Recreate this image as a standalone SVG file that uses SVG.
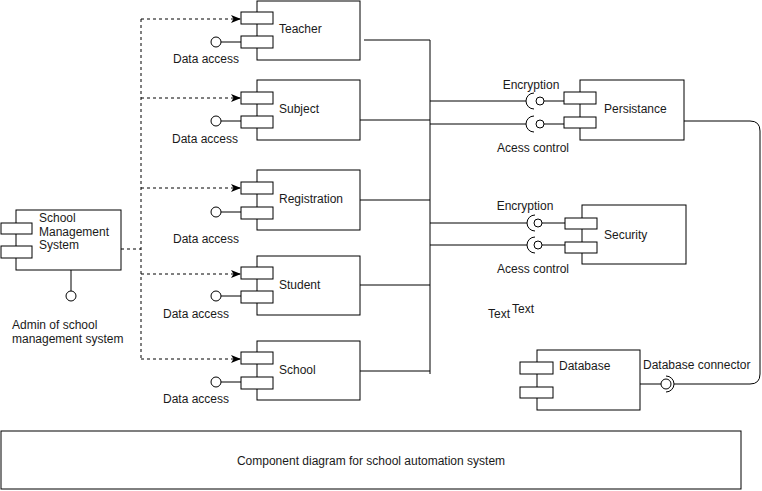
<svg xmlns="http://www.w3.org/2000/svg" width="762" height="491" viewBox="0 0 762 491">
<style>
.b{fill:#fff;stroke:#000;stroke-width:1}
.l{fill:none;stroke:#000;stroke-width:1}
.d{fill:none;stroke:#000;stroke-width:1;stroke-dasharray:3 3}
text{font-family:"Liberation Sans",Arial,sans-serif;font-size:12px;fill:#1a1a1a}
.m{text-anchor:middle}
</style>
<defs>
<marker id="ah" markerUnits="userSpaceOnUse" markerWidth="11" markerHeight="9" refX="10" refY="4.5" orient="auto">
<path d="M0,0.5 L10,4.5 L0,8.5 L2.5,4.5 Z" fill="#000"/>
</marker>
</defs>
<rect width="762" height="491" fill="#fff"/>

<g id="connectors">
<path class="d" d="M121,249 H141 M141,19 V359"/>
<path class="d" d="M141,19 H241" marker-end="url(#ah)"/>
<path class="d" d="M141,98 H241" marker-end="url(#ah)"/>
<path class="d" d="M141,188 H241" marker-end="url(#ah)"/>
<path class="d" d="M141,274 H241" marker-end="url(#ah)"/>
<path class="d" d="M141,359 H241" marker-end="url(#ah)"/>
<path class="l" d="M364,40 H430 M360,120 H430 M360,200 H430 M360,285 H430 M360,371 H430 M430,40 V374"/>
<path class="l" d="M430,101 H526 M430,124 H526 M430,223 H527 M430,245 H527"/>
<path class="l" d="M684,121 H750 Q760,121 760,131 V374 Q760,384 750,384 H674"/>
</g>

<g id="sms">
<rect class="b" x="16" y="210" width="105" height="60"/>
<rect class="b" x="1" y="223" width="31" height="11"/>
<rect class="b" x="1" y="246" width="31" height="12"/>
<text x="39" y="222">School</text>
<text x="39" y="236">Management</text>
<text x="39" y="249">System</text>
<path class="l" d="M71,270 V291"/>
<circle class="b" cx="71" cy="296" r="5"/>
<text x="12" y="329">Admin of school</text>
<text x="12" y="343">management system</text>
</g>

<g id="teacher">
<rect class="b" x="257" y="1" width="103" height="59"/>
<rect class="b" x="241" y="12" width="32" height="12"/>
<rect class="b" x="241" y="36" width="32" height="12"/>
<path class="l" d="M221,42 H241"/>
<circle class="b" cx="216" cy="42" r="5"/>
<text x="279" y="33">Teacher</text>
<text class="m" x="206" y="63">Data access</text>
</g>

<g id="subject">
<rect class="b" x="257" y="80" width="103" height="60"/>
<rect class="b" x="241" y="92" width="32" height="12"/>
<rect class="b" x="241" y="116" width="32" height="12"/>
<path class="l" d="M221,121 H241"/>
<circle class="b" cx="216" cy="121" r="5"/>
<text x="279" y="113">Subject</text>
<text class="m" x="205" y="143">Data access</text>
</g>

<g id="registration">
<rect class="b" x="257" y="170" width="103" height="60"/>
<rect class="b" x="241" y="182" width="32" height="12"/>
<rect class="b" x="241" y="207" width="32" height="12"/>
<path class="l" d="M221,212 H241"/>
<circle class="b" cx="216" cy="212" r="5"/>
<text x="279" y="203">Registration</text>
<text class="m" x="206" y="243">Data access</text>
</g>

<g id="student">
<rect class="b" x="257" y="256" width="103" height="59"/>
<rect class="b" x="241" y="267" width="32" height="12"/>
<rect class="b" x="241" y="291" width="32" height="12"/>
<path class="l" d="M221,296 H241"/>
<circle class="b" cx="216" cy="296" r="5"/>
<text x="279" y="289">Student</text>
<text class="m" x="196" y="318">Data access</text>
</g>

<g id="school">
<rect class="b" x="257" y="341" width="103" height="59"/>
<rect class="b" x="241" y="352" width="32" height="12"/>
<rect class="b" x="241" y="377" width="32" height="12"/>
<path class="l" d="M221,382 H241"/>
<circle class="b" cx="216" cy="382" r="5"/>
<text x="279" y="374">School</text>
<text class="m" x="196" y="403">Data access</text>
</g>

<g id="persistance">
<rect class="b" x="580" y="80" width="104" height="60"/>
<rect class="b" x="564" y="92" width="32" height="12"/>
<rect class="b" x="564" y="117" width="32" height="11"/>
<text x="604" y="113">Persistance</text>
<path class="l" d="M534,93 A8,8 0 0 0 534,109 M544,101 H564"/>
<circle class="b" cx="540" cy="101" r="4"/>
<path class="l" d="M534,116 A8,8 0 0 0 534,132 M544,124 H564"/>
<circle class="b" cx="540" cy="124" r="4"/>
<text class="m" x="531" y="89">Encryption</text>
<text class="m" x="533" y="152">Acess control</text>
</g>

<g id="security">
<rect class="b" x="582" y="205" width="104" height="59"/>
<rect class="b" x="565" y="218" width="32" height="11"/>
<rect class="b" x="565" y="242" width="32" height="11"/>
<text x="604" y="239">Security</text>
<path class="l" d="M535,215 A8,8 0 0 0 535,231 M542,223 H565"/>
<circle class="b" cx="538" cy="223" r="4"/>
<path class="l" d="M535,237 A8,8 0 0 0 535,253 M542,245 H565"/>
<circle class="b" cx="538" cy="245" r="4"/>
<text class="m" x="525" y="210">Encryption</text>
<text class="m" x="533" y="273">Acess control</text>
</g>

<g id="database">
<rect class="b" x="537" y="350" width="103" height="60"/>
<rect class="b" x="520" y="362" width="33" height="12"/>
<rect class="b" x="520" y="387" width="33" height="11"/>
<text x="559" y="370">Database</text>
<path class="l" d="M640,384 H661 M666,376 A8,8 0 0 1 666,392"/>
<circle class="b" cx="666" cy="384" r="5"/>
<text x="643" y="369">Database connector</text>
</g>

<g id="text-labels">
<text x="488" y="318">Text</text>
<text x="512" y="313">Text</text>
</g>

<g id="caption">
<rect class="b" x="1" y="431" width="740" height="58"/>
<text class="m" x="371" y="465">Component diagram for school automation system</text>
</g>
</svg>
